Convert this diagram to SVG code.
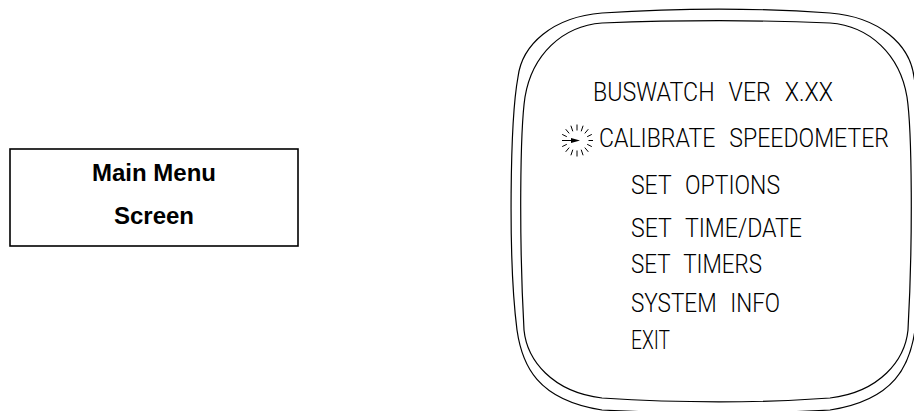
<svg xmlns="http://www.w3.org/2000/svg" width="914" height="411" viewBox="0 0 914 411">
<style>
.box{fill:#fff;stroke:#000;stroke-width:1.6}
.title{font-family:"Liberation Sans",Arial,sans-serif;font-weight:bold;font-size:24px;text-anchor:middle;fill:#000}
.outline{fill:none;stroke:#000;stroke-width:1.2}
.cad{font-family:Roboto,"DejaVu Sans",sans-serif;font-weight:300;font-size:25px;word-spacing:9px;fill:#000}
.tick{stroke:#000;stroke-width:1;fill:none}
</style>
<rect width="914" height="411" fill="#fff"/>
<g id="main-menu-label">
<rect class="box" x="10" y="149" width="288" height="97"/>
<text class="title" x="154" y="181">Main Menu</text>
<text class="title" x="154" y="224">Screen</text>
</g>
<g id="screen">
<path class="outline" d="M 602,13 C 680,8 760,8 830,13 C 880,17 910,45 914,77 C 922,120 924,260 915,330 C 910,365 895,400 830,410 C 760,414 680,414 602,410 C 537,400 522,365 517,330 C 508,260 510,120 518,77 C 522,45 552,17 602,13 Z"/>
<path class="outline" d="M 602,23 C 680,20 760,20 830,23 C 870,26 900,55 907,97 C 912,130 913,240 908,330 C 905,360 880,392 830,398 C 760,403 680,403 602,398 C 552,392 527,360 524,330 C 519,240 520,130 525,97 C 532,55 562,26 602,23 Z"/>
<text class="cad" x="593" y="101" textLength="240" lengthAdjust="spacingAndGlyphs">BUSWATCH VER X.XX</text>
<text class="cad" x="599" y="147" textLength="290" lengthAdjust="spacingAndGlyphs">CALIBRATE SPEEDOMETER</text>
<text class="cad" x="631" y="194" textLength="149" lengthAdjust="spacingAndGlyphs">SET OPTIONS</text>
<text class="cad" x="631" y="237" textLength="171" lengthAdjust="spacingAndGlyphs">SET TIME/DATE</text>
<text class="cad" x="631" y="273" textLength="131" lengthAdjust="spacingAndGlyphs">SET TIMERS</text>
<text class="cad" x="631" y="312" textLength="149" lengthAdjust="spacingAndGlyphs">SYSTEM INFO</text>
<text class="cad" x="631" y="349" textLength="39" lengthAdjust="spacingAndGlyphs">EXIT</text>
</g>
<g id="cursor">
<path class="tick" d="M588.5,140.5H593 M587.2,144.3L591.8,146.6 M584.8,147.6L588.3,151.8 M581.2,149.7L583.1,155.3 M577,150.5V156.5 M572.8,149.7L570.9,155.3 M569.2,147.6L565.7,151.8 M566.8,144.3L562.2,146.6 M566.8,136.7L562.2,134.4 M569.2,133.4L565.7,129.2 M572.8,131.3L570.9,125.7 M577,130.5V124.5 M581.2,131.3L583.1,125.7 M584.8,133.4L588.3,129.2 M587.2,136.7L591.8,134.4"/>
<path class="tick" d="M562,140.5H574"/>
<polygon points="571,138 580,140.5 571,143" fill="#000"/>
</g>
</svg>
